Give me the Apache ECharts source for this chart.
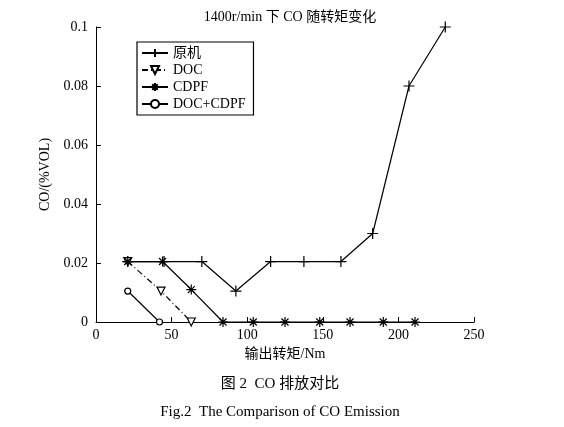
<!DOCTYPE html><html><head><meta charset="utf-8"><script src="https://cdn.jsdelivr.net/npm/echarts@6/dist/echarts.min.js"></script></head><body style="margin:0;background:#fff"><div id="c" style="width:564px;height:427px"></div><script>
const names=['原机','DOC','CDPF','DOC+CDPF'];
const raw=[[21,0.0205],[45,0.0205],[70,0.0205],[92.5,0.0105],[115.5,0.0205],[137.5,0.0205],[162,0.0205],[183,0.030],[207,0.080],[231,0.100]];
const doc=[[21,0.0205],[43,0.0105],[63,0]];
const cdpf=[[21,0.0205],[44,0.0205],[63,0.011],[84,0],[104,0],[125,0],[148,0],[168,0],[190,0],[211,0]];
const both=[[21,0.0105],[42,0]];
const yTicks=[0,0.02,0.04,0.06,0.08,0.1];
const plus='path://M0,5L10,5M5,0L5,10Z';
const star='path://M5,0L5,10M0,5L10,5M1.5,1.5L8.5,8.5M8.5,1.5L1.5,8.5';
const f='"Liberation Serif","Noto Sans CJK SC",serif';
function s(name,data,sym,size,type,fill,rot){return {name,type:'line',data,symbol:sym,symbolSize:size,symbolRotate:rot||0,showSymbol:true,lineStyle:{color:'#000',width:1.2,type},itemStyle:{color:fill,borderColor:'#000',borderWidth:1.2},emphasis:{disabled:true}};}
const ch=echarts.init(document.getElementById('c'));
ch.setOption({animation:false,textStyle:{fontFamily:f},
title:[{text:'1400r/min 下 CO 随转矩变化',left:285,top:5,textAlign:'center',textStyle:{fontSize:14,fontWeight:'normal',fontFamily:f,color:'#000'}},
{text:'图 2  CO 排放对比',left:275,top:372,textAlign:'center',textStyle:{fontSize:15,fontWeight:'normal',fontFamily:f,color:'#000'}},
{text:'Fig.2  The Comparison of CO Emission',left:275,top:400,textAlign:'center',textStyle:{fontSize:15,fontWeight:'normal',fontFamily:f,color:'#000'}}],
grid:{left:96,right:90,top:27,bottom:105},
legend:{orient:'vertical',left:137,top:42,itemGap:3,itemWidth:26,itemHeight:10,padding:[4,8,4,4],borderColor:'#000',borderWidth:1.2,textStyle:{fontSize:14,fontFamily:f,color:'#000'},data:names},
xAxis:{type:'value',min:0,max:250,interval:50,name:'输出转矩/Nm',nameLocation:'middle',nameGap:22,nameTextStyle:{fontSize:14,fontFamily:f,color:'#000'},axisLine:{lineStyle:{color:'#000'}},axisTick:{inside:true,length:5,lineStyle:{color:'#000'}},axisLabel:{fontSize:14,color:'#000',margin:6},splitLine:{show:false}},
yAxis:{type:'value',min:0,max:0.1,interval:0.02,name:'CO/(%VOL)',nameLocation:'middle',nameGap:44,nameTextStyle:{fontSize:14,fontFamily:f,color:'#000'},axisLine:{show:true,lineStyle:{color:'#000'}},axisTick:{inside:true,length:5,lineStyle:{color:'#000'}},axisLabel:{fontSize:14,color:'#000',margin:8,formatter:v=>yTicks.includes(+v.toFixed(2))?String(+v.toFixed(2)):''},splitLine:{show:false}},
series:[s(names[0],raw,plus,11,'solid','#000'),s(names[1],doc,'triangle',8,[6,3,1,3],'#fff',180),s(names[2],cdpf,star,10,'solid','#000'),s(names[3],both,'circle',6,'solid','#fff')]
});
</script></body></html>
